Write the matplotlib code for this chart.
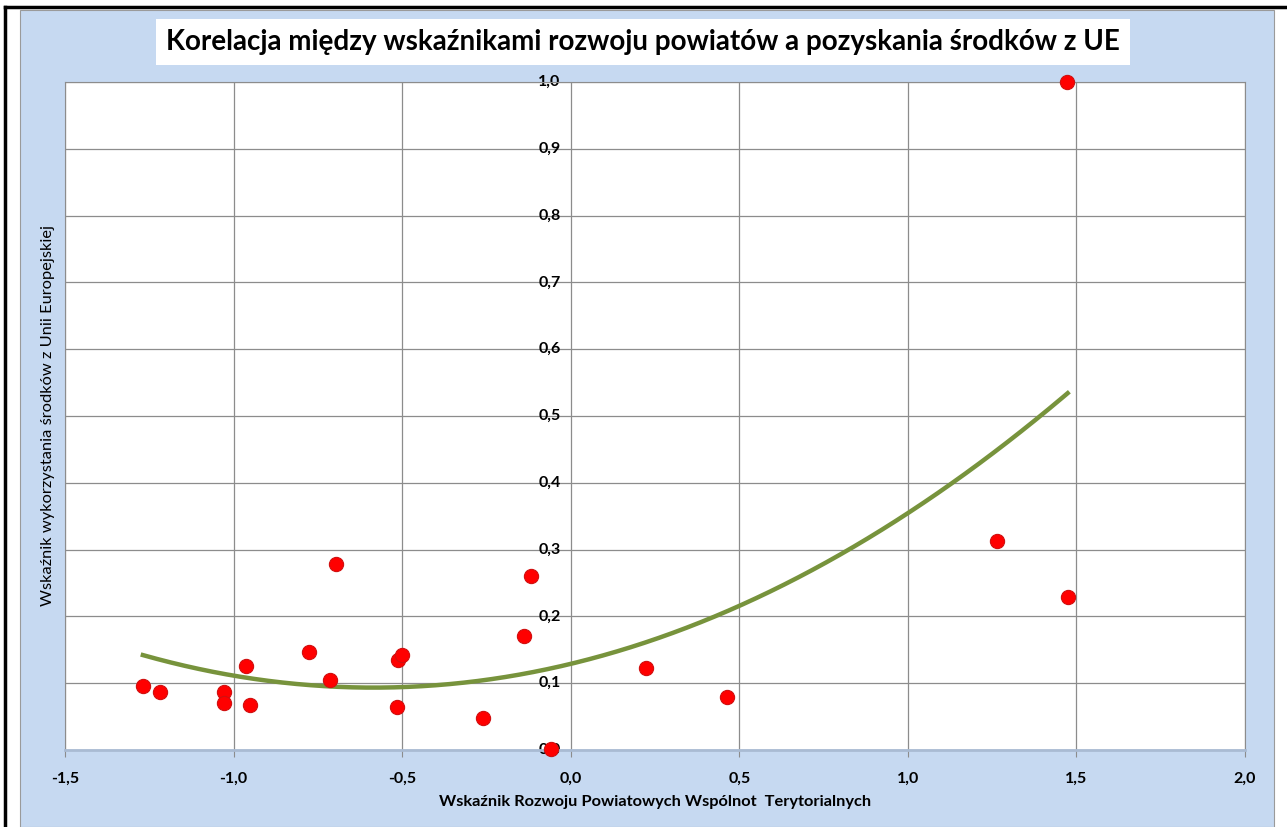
import numpy as np
import matplotlib.pyplot as plt
from matplotlib.patches import Rectangle
from matplotlib.lines import Line2D

# Data
wrpwt = [-1.269, -1.217, -1.028, -1.028, -0.963, -0.952, -0.777, -0.713, -0.697,
         -0.512, -0.499, -0.515, -0.260, -0.140, -0.118, -0.059,
         0.224, 0.464, 1.264, 1.474, 1.473]
wwue = [0.096, 0.087, 0.087, 0.071, 0.126, 0.067, 0.147, 0.105, 0.278,
        0.135, 0.142, 0.065, 0.048, 0.171, 0.261, 0.001,
        0.1235, 0.080, 0.313, 0.2285, 1.000]

x_ticks = [-1.5, -1.0, -0.5, 0.0, 0.5, 1.0, 1.5, 2.0]
y_ticks = [0.0, 0.1, 0.2, 0.3, 0.4, 0.5, 0.6, 0.7, 0.8, 0.9, 1.0]

title = 'Korelacja między wskaźnikami rozwoju powiatów a pozyskania środków z UE'
xlab = 'Wskaźnik Rozwoju Powiatowych Wspólnot  Terytorialnych'
ylab = 'Wskaźnik wykorzystania środków z Unii Europejskiej'

plt.rcParams['font.family'] = ['Lato', 'DejaVu Sans']

W, H = 1287, 827
fig = plt.figure(figsize=(W / 100, H / 100), dpi=100, facecolor='white')

# blue chart panel + black frame
fig.patches.append(Rectangle((20 / W, 0), (1274 - 20) / W, (H - 10) / H, transform=fig.transFigure,
                             facecolor='#c6d9f1', edgecolor='#9a9a9a', lw=0.8, zorder=-10))
fig.lines.append(Line2D([5 / W, 1], [1 - 7 / H, 1 - 7 / H], transform=fig.transFigure,
                        color='black', lw=2.5, zorder=-5))
fig.lines.append(Line2D([5 / W, 5 / W], [0, 1 - 7 / H], transform=fig.transFigure,
                        color='black', lw=2.5, zorder=-5))

ax = fig.add_axes([65 / W, 1 - 750 / H, (1245 - 65) / W, (750 - 82) / H])
ax.set_facecolor('white')
ax.set_xlim(-1.5, 2.0)
ax.set_ylim(0, 1.0)

ax.set_xticks(x_ticks)
ax.set_xticklabels([f'{v:.1f}'.replace('.', ',') for v in x_ticks], fontweight='bold', fontsize=11.5)
ax.set_yticks(y_ticks)
ax.set_yticklabels([])
ax.tick_params(axis='y', length=0)
ax.tick_params(axis='x', length=5, color='#8c8c8c', pad=11)
ax.grid(True, color='#8c8c8c', lw=0.9)
ax.set_axisbelow(True)
for s in ax.spines.values():
    s.set_color('#8c8c8c')
    s.set_linewidth(0.8)
ax.spines['bottom'].set_color('#a9bbd3')
ax.spines['bottom'].set_linewidth(2)

# y labels sit next to the axis at x = 0
for v in y_ticks:
    ax.text(-0.03, v, f'{v:.1f}'.replace('.', ','), ha='right', va='center',
            fontsize=11.5, fontweight='bold', zorder=2)

# 2nd order polynomial trendline
coef = np.polyfit(wrpwt, wwue, 2)
xt = np.linspace(min(wrpwt), max(wrpwt), 200)
ax.plot(xt, np.polyval(coef, xt), color='#77933c', lw=3.2, zorder=3)

ax.scatter(wrpwt, wwue, s=105, color='#ff0000', edgecolor='#d01010', lw=0.8, zorder=4, clip_on=False)

ax.set_xlabel(xlab, fontsize=11.8, fontweight='bold', labelpad=6)
ax.set_ylabel(ylab, fontsize=11.8, labelpad=4)

fig.text(643 / W, 1 - 42 / H, title, ha='center', va='center', fontsize=20, fontweight='bold',
         bbox=dict(facecolor='white', edgecolor='none', pad=7))

fig.savefig('out.png', dpi=100, facecolor=fig.get_facecolor())
